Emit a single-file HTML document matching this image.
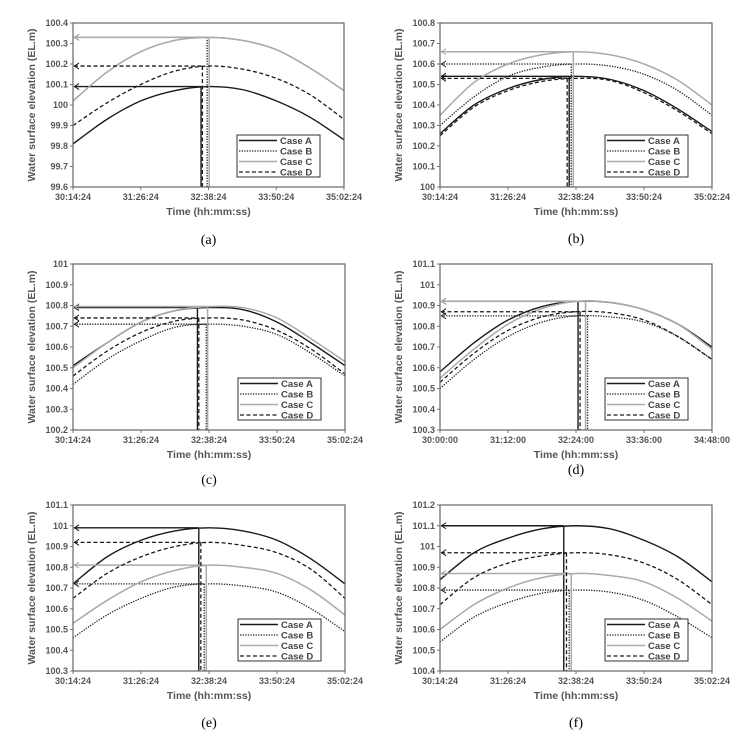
<!DOCTYPE html>
<html><head><meta charset="utf-8">
<style>
body{margin:0;background:#fff;}
svg{display:block;font-family:"Liberation Sans",Arial,sans-serif;}
.tick{font-size:9px;font-weight:bold;fill:#555;}
.ttl{font-size:10.5px;font-weight:bold;fill:#555;}
.cap{font-family:"Liberation Serif",serif;font-size:14px;fill:#000;}
.leg{font-size:9.5px;font-weight:bold;fill:#444;}
</style></head>
<body>
<svg id="fig" width="749" height="736" viewBox="0 0 749 736"></svg>
<script>
// x positions in tick units (0..4) for each sample
const xSamples = [0,0.5,1,1.5,2,2.5,3,3.5,4];
const caseNames = ["Case A","Case B","Case C","Case D"];

// Panel a
const aXTicks = ["30:14:24","31:26:24","32:38:24","33:50:24","35:02:24"];
const aYTicks = ["99.6","99.7","99.8","99.9","100","100.1","100.2","100.3","100.4"];
const aA = [99.81,99.93,100.02,100.07,100.09,100.075,100.02,99.94,99.83];
const aB = [100.02,100.16,100.26,100.315,100.33,100.315,100.27,100.18,100.07];
const aC = [100.02,100.16,100.26,100.315,100.33,100.315,100.27,100.18,100.07];
const aD = [99.90,100.01,100.10,100.165,100.19,100.175,100.13,100.05,99.93];
const aPeakX = [1.89,1.98,2.01,1.91];

// Panel b
const bXTicks = ["30:14:24","31:26:24","32:38:24","33:50:24","35:02:24"];
const bYTicks = ["100","100.1","100.2","100.3","100.4","100.5","100.6","100.7","100.8"];
const bA = [100.26,100.40,100.48,100.525,100.54,100.525,100.47,100.38,100.27];
const bB = [100.30,100.44,100.54,100.585,100.60,100.59,100.55,100.47,100.35];
const bC = [100.35,100.51,100.60,100.645,100.66,100.645,100.60,100.52,100.40];
const bD = [100.25,100.39,100.47,100.515,100.53,100.52,100.46,100.37,100.26];
const bPeakX = [1.90,1.93,1.96,1.87];

// Panel c
const cXTicks = ["30:14:24","31:26:24","32:38:24","33:50:24","35:02:24"];
const cYTicks = ["100.2","100.3","100.4","100.5","100.6","100.7","100.8","100.9","101"];
const cA = [100.51,100.62,100.72,100.775,100.79,100.78,100.72,100.62,100.51];
const cB = [100.42,100.54,100.63,100.695,100.71,100.70,100.66,100.57,100.46];
const cC = [100.50,100.62,100.72,100.775,100.795,100.79,100.74,100.64,100.53];
const cD = [100.46,100.58,100.67,100.725,100.74,100.73,100.68,100.59,100.47];
const cPeakX = [1.83,1.96,1.98,1.85];

// Panel d
const dXTicks = ["30:00:00","31:12:00","32:24:00","33:36:00","34:48:00"];
const dYTicks = ["100.3","100.4","100.5","100.6","100.7","100.8","100.9","101","101.1"];
const dA = [100.58,100.72,100.83,100.895,100.92,100.915,100.88,100.81,100.70];
const dB = [100.50,100.64,100.75,100.82,100.85,100.845,100.82,100.75,100.64];
const dC = [100.55,100.69,100.81,100.885,100.92,100.915,100.88,100.81,100.69];
const dD = [100.53,100.67,100.78,100.845,100.87,100.865,100.83,100.75,100.64];
const dPeakX = [2.03,2.17,2.14,2.06];

// Panel e
const eXTicks = ["30:14:24","31:26:24","32:38:24","33:50:24","35:02:24"];
const eYTicks = ["100.3","100.4","100.5","100.6","100.7","100.8","100.9","101","101.1"];
const eA = [100.72,100.85,100.93,100.975,100.99,100.975,100.93,100.84,100.72];
const eB = [100.46,100.57,100.65,100.705,100.72,100.71,100.68,100.60,100.49];
const eC = [100.53,100.64,100.73,100.785,100.81,100.80,100.77,100.69,100.57];
const eD = [100.65,100.77,100.85,100.90,100.92,100.905,100.87,100.79,100.65];
const ePeakX = [1.85,1.93,1.96,1.88];

// Panel f
const fXTicks = ["30:14:24","31:26:24","32:38:24","33:50:24","35:02:24"];
const fYTicks = ["100.4","100.5","100.6","100.7","100.8","100.9","101","101.1","101.2"];
const fA = [100.84,100.97,101.04,101.085,101.10,101.085,101.03,100.95,100.83];
const fB = [100.54,100.66,100.73,100.775,100.79,100.78,100.74,100.66,100.56];
const fC = [100.60,100.72,100.80,100.85,100.87,100.86,100.83,100.75,100.64];
const fD = [100.72,100.85,100.92,100.955,100.97,100.96,100.92,100.84,100.72];
const fPeakX = [1.82,1.90,1.93,1.86];

const NS="http://www.w3.org/2000/svg";
const fig=document.getElementById('fig');
function mk(tag,attrs,parent){const e=document.createElementNS(NS,tag);for(const k in attrs)e.setAttribute(k,attrs[k]);(parent||fig).appendChild(e);return e;}

const styles=[
 {stroke:"#1a1a1a",w:1.4,dash:""},
 {stroke:"#222",w:1.3,dash:"1.3,1.3"},
 {stroke:"#aaa",w:1.5,dash:""},
 {stroke:"#1a1a1a",w:1.3,dash:"4,2.5"}
];

function panel(id,L,T,R,B,xt,yt,series,peaks,capY,ttlX){
  const g=mk('g',{});
  
  
  const y0=parseFloat(yt[0]),y1=parseFloat(yt[yt.length-1]);
  const sx=v=>L+(R-L)*v/(xt.length-1);
  const sy=v=>B-(B-T)*(v-y0)/(y1-y0);
  yt.forEach((t,i)=>{
    const yy=sy(parseFloat(t));
    const tx=mk('text',{x:L-5,y:yy+3,'text-anchor':'end',class:'tick'},g);tx.textContent=t;
    
    
    mk('line',{x1:L-3,x2:L,y1:yy,y2:yy,stroke:'#777','stroke-width':1},g);
  });
  xt.forEach((t,i)=>{
    const xx=sx(i);
    const tx=mk('text',{x:xx,y:B+13,'text-anchor':'middle',class:'tick'},g);tx.textContent=t;
    
    
    mk('line',{x1:xx,x2:xx,y1:B,y2:B+3,stroke:'#777','stroke-width':1},g);
  });
  const xtl=mk('text',{x:(L+R)/2,y:B+28,'text-anchor':'middle',class:'ttl'},g);xtl.textContent="Time (hh:mm:ss)";
  
  
  const ytl=mk('text',{x:0,y:0,'text-anchor':'middle',class:'ttl',transform:`translate(${ttlX},${(T+B)/2}) rotate(-90)`},g);ytl.textContent="Water surface elevation (EL.m)";
  
  
  series.forEach((s,k)=>{
    const st=styles[k];
    const pts=s.map((v,i)=>[sx(xSamples[i]),sy(v)]);
    let d=`M${pts[0][0]},${pts[0][1]}`;
    for(let i=0;i<pts.length-1;i++){
      const p0=pts[Math.max(0,i-1)],p1=pts[i],p2=pts[i+1],p3=pts[Math.min(pts.length-1,i+2)];
      const c1=[p1[0]+(p2[0]-p0[0])/6,p1[1]+(p2[1]-p0[1])/6];
      const c2=[p2[0]-(p3[0]-p1[0])/6,p2[1]-(p3[1]-p1[1])/6];
      d+=` C${c1[0]},${c1[1]} ${c2[0]},${c2[1]} ${p2[0]},${p2[1]}`;
    }
    const p=mk('path',{d:d,fill:'none',stroke:st.stroke,'stroke-width':st.w,'stroke-dasharray':st.dash},g);
    
    
    const pk=Math.max(...s);const px=sx(peaks[k]),py=sy(pk);
    const vl=mk('line',{x1:px,x2:px,y1:py,y2:B,stroke:st.stroke,'stroke-width':st.w,'stroke-dasharray':st.dash},g);
    
    
    const hl=mk('line',{x1:L+1,x2:px,y1:py,y2:py,stroke:st.stroke,'stroke-width':st.w,'stroke-dasharray':st.dash},g);
    
    
    const ah=mk('path',{d:`M${L+6},${py-3} L${L+1.5},${py} L${L+6},${py+3}`,fill:'none',stroke:st.stroke,'stroke-width':1},g);
    
    
  });
  const box=mk('rect',{x:L,y:T,width:R-L,height:B-T,fill:'none',stroke:'#666','stroke-width':1.2},g);
  
  
  const lx=R-107,ly=B-52;
  const lg=mk('g',{},g);
  
  
  mk('rect',{x:lx,y:ly,width:83,height:42,fill:'#fff',stroke:'#333','stroke-width':1},lg);
  caseNames.forEach((n,k)=>{
    const st=styles[k];const yy=ly+5.5+k*10.5;
    mk('line',{x1:lx+2,x2:lx+40,y1:yy,y2:yy,stroke:st.stroke,'stroke-width':st.w,'stroke-dasharray':st.dash},lg);
    const t=mk('text',{x:lx+43,y:yy+3.5,class:'leg'},lg);t.textContent=n;
    
    
  });
  const cap=mk('text',{x:(L+R)/2,y:capY,'text-anchor':'middle',class:'cap'},g);cap.textContent="("+id+")";
  
  
}

panel('a',73,23,344,187,aXTicks,aYTicks,[aA,aB,aC,aD],aPeakX,244,35);
panel('b',440,23,712,187,bXTicks,bYTicks,[bA,bB,bC,bD],bPeakX,243,402);
panel('c',73,264,345,430,cXTicks,cYTicks,[cA,cB,cC,cD],cPeakX,484,35);
panel('d',440,264,712,430,dXTicks,dYTicks,[dA,dB,dC,dD],dPeakX,474,402);
panel('e',73,505,345,671,eXTicks,eYTicks,[eA,eB,eC,eD],ePeakX,727,35);
panel('f',440,505,712,671,fXTicks,fYTicks,[fA,fB,fC,fD],fPeakX,727,402);
</script>
</body></html>
